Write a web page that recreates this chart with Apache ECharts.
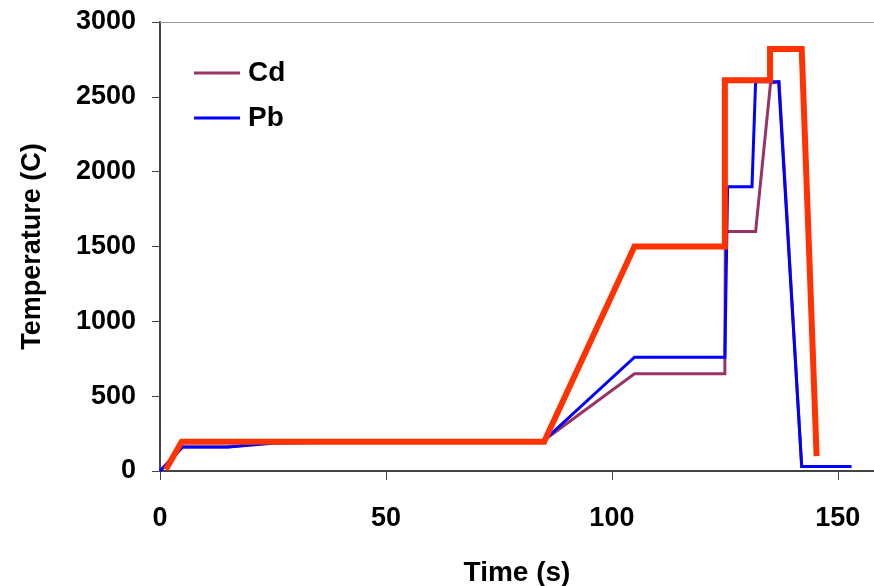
<!DOCTYPE html>
<html>
<head>
<meta charset="utf-8">
<script src="https://cdn.jsdelivr.net/npm/echarts@6/dist/echarts.min.js"></script>
<style>
html,body{margin:0;padding:0;background:#fff;}
#chart{width:874px;height:586px;}
</style>
</head>
<body>
<div id="chart"></div>
<script>
// Data
var cdTime = [0, 5, 15, 25, 55, 85, 105, 125, 125.1, 131.8, 135.1, 137, 142, 153];
var cdTemp = [0, 160, 160, 190, 200, 205, 650, 650, 1600, 1600, 2590, 2600, 30, 30];

var pbTime = [0, 5, 15, 25, 55, 85, 105, 125, 125.6, 131, 131.8, 136.9, 142, 153];
var pbTemp = [0, 160, 160, 185, 200, 205, 760, 760, 1900, 1900, 2600, 2600, 30, 30];

var tubeTime = [1.3, 4.8, 85, 105, 125, 125, 135, 135, 142, 145.3];
var tubeTemp = [10, 195, 195, 1500, 1500, 2610, 2610, 2820, 2820, 100];

var xTicks = [0, 50, 100, 150];
var yTicks = [0, 500, 1000, 1500, 2000, 2500, 3000];

function pairs(xs, ys) {
  return xs.map(function (x, i) { return [x, ys[i]]; });
}

var FONT = '"Liberation Sans", Arial, sans-serif';
var chart = echarts.init(document.getElementById('chart'), null, {renderer: 'canvas'});
chart.setOption({
  animation: false,
  backgroundColor: '#ffffff',
  grid: {left: 160, top: 22, right: 0, height: 449, show: false, containLabel: false, outerBoundsMode: 'none'},
  legend: {
    data: ['Cd', 'Pb'],
    orient: 'vertical',
    left: 194, top: 59, padding: 0,
    itemWidth: 46, itemHeight: 14, itemGap: 17,
    icon: 'path://M0,6 L46,6 L46,9 L0,9 Z',
    textStyle: {fontFamily: FONT, fontSize: 28, fontWeight: 'bold', color: '#000', padding: [0,0,0,3]}
  },
  xAxis: [{
    type: 'value', min: 0, max: 158, interval: 50,
    name: 'Time (s)', nameLocation: 'middle', nameGap: 88,
    nameTextStyle: {fontFamily: FONT, fontSize: 28, fontWeight: 'bold', color: '#000'},
    axisLine: {show: true, lineStyle: {color: '#444', width: 2}},
    axisTick: {show: true, length: 9, lineStyle: {color: '#444', width: 1}},
    axisLabel: {
      fontFamily: FONT, fontSize: 27, fontWeight: 'bold', color: '#000', margin: 34,
      showMaxLabel: false,
      formatter: function (v) { return xTicks.indexOf(v) >= 0 ? String(v) : ''; }
    },
    splitLine: {show: false}
  }, {
    type: 'value', min: 0, max: 158, position: 'top',
    axisLine: {show: true, lineStyle: {color: '#999', width: 1}},
    axisTick: {show: false}, axisLabel: {show: false}, splitLine: {show: false}
  }],
  yAxis: {
    type: 'value', min: 0, max: 3000, interval: 500,
    name: 'Temperature (C)', nameLocation: 'middle', nameGap: 114, nameRotate: 90,
    nameTextStyle: {fontFamily: FONT, fontSize: 27, fontWeight: 'bold', color: '#000'},
    axisLine: {show: true, lineStyle: {color: '#444', width: 2}},
    axisTick: {show: true, length: 8, lineStyle: {color: '#444', width: 1}},
    axisLabel: {
      fontFamily: FONT, fontSize: 27, fontWeight: 'bold', color: '#000', margin: 24,
      padding: [5, 0, 0, 0],
      formatter: function (v) { return yTicks.indexOf(v) >= 0 ? String(v) : ''; }
    },
    splitLine: {show: false}
  },
  series: [
    {
      name: 'Cd', type: 'line', showSymbol: false, symbol: 'none',
      data: pairs(cdTime, cdTemp),
      lineStyle: {color: '#993366', width: 3, join: 'miter'},
      itemStyle: {color: '#993366'}
    },
    {
      name: 'Pb', type: 'line', showSymbol: false, symbol: 'none',
      data: pairs(pbTime, pbTemp),
      lineStyle: {color: '#0000FF', width: 3, join: 'miter'},
      itemStyle: {color: '#0000FF'}
    },
    {
      name: 'Furnace', type: 'line', showSymbol: false, symbol: 'none',
      data: pairs(tubeTime, tubeTemp),
      lineStyle: {color: '#FF3300', width: 6, join: 'miter', cap: 'butt'},
      itemStyle: {color: '#FF3300'}
    }
  ]
});
</script>
</body>
</html>
